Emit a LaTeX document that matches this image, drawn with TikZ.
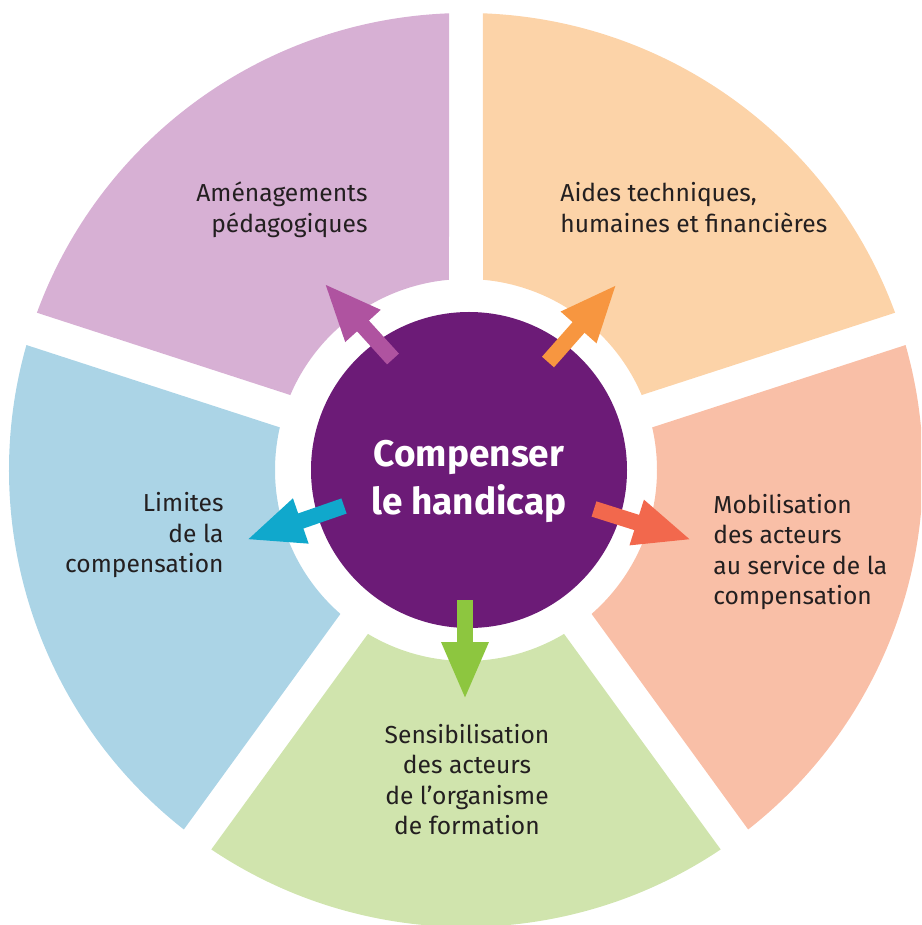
\documentclass[tikz,border=0pt]{standalone}
\usepackage{fontspec}
\setmainfont{Fira Sans}
\usetikzlibrary{arrows.meta}
\usetikzlibrary{positioning}
\definecolor{lilac}{HTML}{D7B0D4}
\definecolor{peach}{HTML}{FCD3A8}
\definecolor{salmon}{HTML}{F9BFA7}
\definecolor{leaf}{HTML}{D0E4AD}
\definecolor{sky}{HTML}{ABD4E6}
\definecolor{plum}{HTML}{6C1B77}
\definecolor{lilacarrow}{HTML}{AF53A0}
\definecolor{peacharrow}{HTML}{F79640}
\definecolor{salmonarrow}{HTML}{F2684D}
\definecolor{leafarrow}{HTML}{8DC63F}
\definecolor{skyarrow}{HTML}{10A8CC}
\definecolor{ink}{HTML}{231F20}
\tikzset{spoke/.style = {line width=8pt, -{Triangle[width=21.5pt, length=29pt]}}}
\tikzset{sectortext/.style = {font=\fontsize{12.3}{15.25}\selectfont, text=ink, inner sep=0}}
\tikzset{hub/.style = {circle, fill=plum, inner sep=0, minimum size=158pt}}

\begin{document}
\begin{tikzpicture}[x=0.5pt, y=0.5pt]
    \useasboundingbox (-466, -455) rectangle (455, 470);
    \clip (-466, -455) rectangle (455, 470);

    % five sectors, gaps of 34 between them
    \foreach \a/\b/\col in {90/162/lilac, 18/90/peach, -54/18/salmon, -126/-54/leaf, 162/234/sky}
      \fill [\col] (\a+5.11:191) -- (\a+2.13:457)
          arc [start angle=\a+2.13, end angle=\b-2.13, radius=457]
          -- (\b-5.11:191)
          arc [start angle=\b-5.11, end angle=\a+5.11, radius=191] -- cycle;

    \node [hub] (hub) at (3, 0) {};
    \node [font=\fontsize{18.5}{24}\selectfont\bfseries, text=white, align=center, inner sep=0]
      (title) at ([yshift=-5.5pt]hub.center) {Compenser\\le handicap};

    \coordinate (lilacfrom) at (-73, 111);
    \coordinate (lilacto) at (-142, 187);
    \coordinate (peachfrom) at (82, 108);
    \coordinate (peachto) at (151, 186);
    \coordinate (salmonfrom) at (128, -39);
    \coordinate (salmonto) at (226, -70);
    \coordinate (leaffrom) at (-1, -130);
    \coordinate (leafto) at (-1, -230);
    \coordinate (skyfrom) at (-122, -36);
    \coordinate (skyto) at (-220, -70);

    \draw [spoke, lilacarrow] (lilacfrom) -- (lilacto);
    \draw [spoke, peacharrow] (peachfrom) -- (peachto);
    \draw [spoke, salmonarrow] (salmonfrom) -- (salmonto);
    \draw [spoke, leafarrow] (leaffrom) -- (leafto);
    \draw [spoke, skyarrow] (skyfrom) -- (skyto);

    % base anchor sits on the last line
    \node [sectortext, align=right, anchor=base east] (amenag) at (-98, 237.5) {Aménagements\\pédagogiques};
    \node [sectortext, align=left, anchor=base west] (aides) at (94, 237.5) {Aides techniques,\\humaines et financières};
    \node [sectortext, align=right, anchor=base east] (limites) at (-242, -103) {Limites\\de la\\compensation};
    \node [sectortext, align=left, anchor=base west] (mobil) at (247, -134.5) {Mobilisation\\des acteurs\\au service de la\\compensation};
    \node [sectortext, align=center, anchor=base] (sensib) at (1, -364.5) {Sensibilisation\\des acteurs\\de l’organisme\\de formation};
  \end{tikzpicture}
\end{document}
